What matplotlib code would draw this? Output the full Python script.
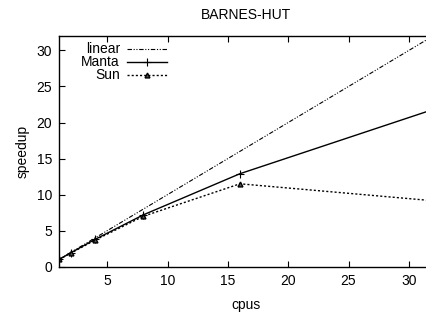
import matplotlib
matplotlib.use("Agg")
import matplotlib.pyplot as plt
from matplotlib.lines import Line2D

cpus = [1, 2, 4, 8, 16, 32]
linear = [1, 2, 4, 8, 16, 32]
manta = [1, 1.95, 3.8, 7.2, 12.9, 21.8]
sun = [1, 1.9, 3.7, 7.0, 11.5, 9.15]

plt.rcParams['font.family'] = ['Liberation Sans', 'DejaVu Sans']
plt.rcParams['font.size'] = 10

fig = plt.figure(figsize=(4.27, 3.14), dpi=100)
ax = fig.add_axes([59/427, 47.3/314, 374/427, 230.7/314])

lin_style = dict(color='black', lw=0.8, dashes=(4, 1.5, 1, 1.5, 1, 1.5))
man_style = dict(color='black', lw=1.0, marker='+', ms=6, mew=0.8)
sun_style = dict(color='black', lw=1.0, dashes=(1.5, 1.5), marker='^', ms=3.5,
                 mfc='#555555', mew=1.0)

ax.plot(cpus, linear, **lin_style)
ax.plot(cpus, manta, **man_style)
ax.plot(cpus, sun, **sun_style)

ax.set_xlim(1, 32)
ax.set_ylim(0, 32)
ax.set_xticks([5, 10, 15, 20, 25, 30])
ax.set_yticks([0, 5, 10, 15, 20, 25, 30])
ax.tick_params(direction='in', top=True, right=True, length=4, width=0.8,
               labelsize=10, pad=5)
for s in ax.spines.values():
    s.set_linewidth(1.0)
ax.set_xlabel('cpus', fontsize=10, labelpad=7.5)
ax.set_ylabel('speedup', fontsize=10, labelpad=5)
ax.set_title('BARNES-HUT', fontsize=10, pad=12)

# gnuplot-style legend (text right-aligned, sample to its right)
labels = ['linear', 'Manta', 'Sun']
styles = [lin_style, man_style, sun_style]
def fx(px):
    return (px - 59) / 374
def fy(py):
    return (266.7 - py) / 230.7
for i, (lab, st) in enumerate(zip(labels, styles)):
    y = fy(49.3 + i * 12.7)
    ax.text(fx(120), y, lab, transform=ax.transAxes, ha='right', va='center',
            fontsize=10)
    st2 = dict(st)
    mk = st2.pop('marker', None)
    ms = st2.pop('ms', None)
    mfc = st2.pop('mfc', None)
    mew = st2.pop('mew', None)
    ax.add_line(Line2D([fx(127.5), fx(167)], [y, y], transform=ax.transAxes, **st2))
    if mk:
        ax.add_line(Line2D([fx(147)], [y], transform=ax.transAxes, marker=mk,
                           ms=ms, mew=mew, color='black',
                           mfc=mfc if mfc else 'black', ls='none'))

fig.savefig('out.png', dpi=100)
